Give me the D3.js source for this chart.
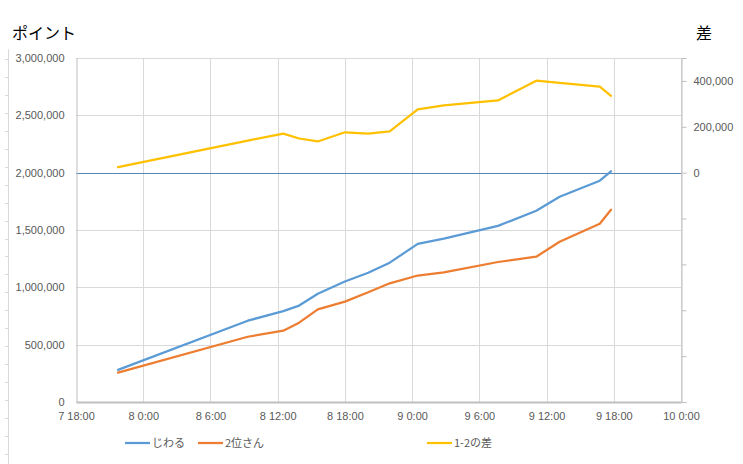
<!DOCTYPE html>
<html><head><meta charset="utf-8">
<script src="https://cdn.jsdelivr.net/npm/d3@7"></script>
<style>body{margin:0;background:#fff;} svg{display:block;font-family:"Noto Sans CJK JP","Noto Sans",sans-serif;}</style>
</head><body><svg id="c" width="743" height="464"></svg>
<script>
// times as "day hour:minute" (day-of-month)
const times = ["7 21:45","8 9:20","8 12:30","8 13:55","8 15:35","8 18:00","8 20:05","8 22:00","9 0:30","9 2:50","9 7:40","9 11:05","9 13:10","9 16:45","9 17:45"];
const jiwaru = [280000,709000,792000,841000,944000,1051000,1127000,1215000,1379000,1424000,1536000,1668000,1790000,1930000,2012000];
const second = [256000,569000,622000,692000,808000,875000,957000,1035000,1103000,1131000,1221000,1267000,1398000,1555000,1677000];
const diff = [24000,140000,170000,149000,136000,176000,170000,180000,276000,293000,315000,401000,392000,375000,335000];
const leftTicks = [0,500000,1000000,1500000,2000000,2500000,3000000];
const rightTicks = [-1000000,-800000,-600000,-400000,-200000,0,200000,400000];
const xTickLabels = ["7 18:00","8 0:00","8 6:00","8 12:00","8 18:00","9 0:00","9 6:00","9 12:00","9 18:00","10 0:00"];
const seriesNames = ["じわる","2位さん","1-2の差"];
const colors = ["#5b9bd5","#ed7d31","#ffc000"];

const parse = s => { const [d, hm] = s.split(" "); const [h, m] = hm.split(":").map(Number); return new Date(Date.UTC(2019, 0, +d, h, m)); };
const svg = d3.select("#c");
const L = 76, R = 681, T = 58, B = 402;
const x = d3.scaleUtc().domain([parse("7 18:00"), parse("10 0:00")]).range([L, R]);
const y = d3.scaleLinear().domain([0, 3000000]).range([B, T]);
const y2 = d3.scaleLinear().domain([-1000000, 500000]).range([B, T]);
const fmt = d3.format(",");

// decorative left ruler
svg.append("line").attr("x1", 8.5).attr("x2", 8.5).attr("y1", 49).attr("y2", 464).attr("stroke", "#d9d9d9");
svg.append("g").selectAll("line").data(d3.range(0, 24)).join("line")
  .attr("x1", 5).attr("x2", 8.5).attr("y1", i => Math.round(59 + i * 17.95) + 0.5).attr("y2", i => Math.round(59 + i * 17.95) + 0.5)
  .attr("stroke", "#d9d9d9");

// gridlines
svg.append("g").selectAll("line").data(leftTicks.slice(1)).join("line")
  .attr("x1", L).attr("x2", R).attr("y1", d => Math.round(y(d)) + 0.5).attr("y2", d => Math.round(y(d)) + 0.5)
  .attr("stroke", "#d9d9d9");
const xt = xTickLabels.map(parse);
svg.append("g").selectAll("line").data(xt.slice(1)).join("line")
  .attr("x1", d => Math.round(x(d)) + 0.5).attr("x2", d => Math.round(x(d)) + 0.5).attr("y1", T).attr("y2", B)
  .attr("stroke", "#d9d9d9");

// zero line of secondary axis
svg.append("line").attr("x1", L).attr("x2", R).attr("y1", Math.round(y2(0)) + 0.5).attr("y2", Math.round(y2(0)) + 0.5)
  .attr("stroke", "#5b87b8").attr("stroke-width", 1);

// axes
const leftAxis = svg.append("g").attr("transform", `translate(${L + 0.5},0)`)
  .call(d3.axisLeft(y).tickValues(leftTicks).tickFormat(fmt).tickSize(0).tickPadding(12));
leftAxis.select(".domain").attr("stroke", "#bfbfbf");
leftAxis.selectAll("text").attr("fill", "#595959").attr("font-size", 11);

const rightAxis = svg.append("g").attr("transform", `translate(${R + 0.5},0)`)
  .call(d3.axisRight(y2).tickValues(rightTicks).tickFormat(d => d < 0 ? "" : fmt(d)).tickSize(5).tickPadding(7));
rightAxis.select(".domain").attr("stroke", "#bfbfbf");
rightAxis.selectAll("line").attr("stroke", "#bfbfbf");
rightAxis.selectAll("text").attr("fill", "#595959").attr("font-size", 11);

const bottomAxis = svg.append("g").attr("transform", `translate(0,${B})`)
  .call(d3.axisBottom(x).tickValues(xt).tickFormat((d, i) => xTickLabels[i]).tickSize(0).tickPadding(10));
bottomAxis.select(".domain").attr("stroke", "#bfbfbf").attr("stroke-width", 2);
bottomAxis.selectAll("text").attr("fill", "#595959").attr("font-size", 11);

// lines
const pts = times.map(parse);
const line = d3.line().x(d => x(d[0])).y(d => d[1]);
const data = [
  pts.map((t, i) => [t, y(jiwaru[i])]),
  pts.map((t, i) => [t, y(second[i])]),
  pts.map((t, i) => [t, y2(diff[i])])
];
[2, 1, 0].forEach(k => {
  svg.append("path").attr("d", line(data[k])).attr("fill", "none").attr("stroke", colors[k])
    .attr("stroke-width", 2.25).attr("stroke-linejoin", "round").attr("stroke-linecap", "round");
});

// titles
svg.append("text").attr("x", 12).attr("y", 39).attr("font-size", 16).attr("fill", "#000").text("ポイント");
svg.append("text").attr("x", 696).attr("y", 39).attr("font-size", 16).attr("fill", "#000").text("差");

// legend
const legendX = [125, 198, 427];
seriesNames.forEach((n, k) => {
  const g = svg.append("g").attr("transform", `translate(${legendX[k]},443)`);
  g.append("line").attr("x1", 0).attr("x2", 25).attr("stroke", colors[k]).attr("stroke-width", 2.25);
  g.append("text").attr("x", 27).attr("y", 4).attr("font-size", 11).attr("fill", "#595959").text(n);
});
</script></body></html>
